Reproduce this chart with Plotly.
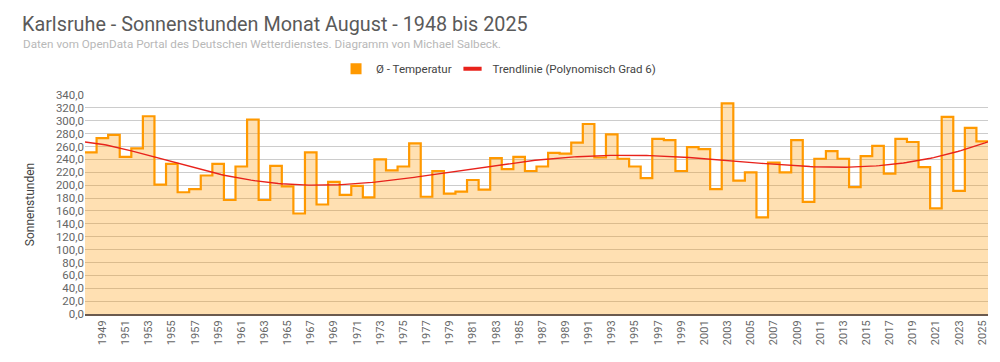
import numpy as np
import plotly.graph_objects as go

years = list(range(1948, 2026))
sunshine = [
    251, 273, 278, 244, 257, 307, 201, 233, 189, 194,   # 1948-1957
    215, 233, 177, 229, 302, 177, 230, 198, 156, 251,   # 1958-1967
    170, 205, 185, 199, 181, 240, 223, 229, 265, 182,   # 1968-1977
    222, 187, 190, 208, 193, 242, 225, 244, 222, 229,   # 1978-1987
    250, 249, 266, 295, 243, 279, 241, 229, 211, 272,   # 1988-1997
    270, 222, 259, 256, 194, 327, 207, 220, 150, 235,   # 1998-2007
    220, 270, 174, 241, 253, 241, 197, 245, 261, 218,   # 2008-2017
    272, 267, 228, 164, 306, 191, 289, 268,             # 2018-2025
]
x_ticks = list(range(1949, 2026, 2))
y_ticks = list(range(0, 341, 20))

yrs = np.array(years, dtype=float)
vals = np.array(sunshine, dtype=float)

# step edges: each year occupies a full band
edges = np.append(yrs - 0.5, yrs[-1] + 0.5)
step_vals = np.append(vals, vals[-1])

# polynomial trend, degree 6
coef = np.polyfit((yrs - yrs.mean()) / 40.0, vals, 6)
xt = np.linspace(edges[0], edges[-1], 300)
yt = np.polyval(coef, (xt - yrs.mean()) / 40.0)

ORANGE = "#FF9900"
RED = "#E8221B"

fig = go.Figure()
fig.add_trace(go.Scatter(
    x=edges, y=step_vals, mode="lines", line=dict(shape="hv", color=ORANGE, width=2.2),
    fill="tozeroy", fillcolor="rgba(255,153,0,0.3)", showlegend=False,
))
fig.add_trace(go.Scatter(
    x=xt, y=yt, mode="lines", line=dict(color=RED, width=1.4), showlegend=False,
))
# legend entries
fig.add_trace(go.Scatter(
    x=[None], y=[None], mode="markers", name="Ø - Temperatur", legend="legend",
    marker=dict(symbol="square", size=11, color=ORANGE),
))
fig.add_trace(go.Scatter(
    x=[None], y=[None], mode="markers", name="Trendlinie (Polynomisch Grad 6)", legend="legend2",
    marker=dict(symbol="line-ew", size=13, line=dict(width=4, color=RED)),
))

legend_style = dict(
    orientation="h", y=1.12, xanchor="left", yanchor="middle",
    font=dict(family="Roboto", size=11.5, color="#444444"), itemwidth=30,
    bgcolor="rgba(0,0,0,0)",
)

fig.update_layout(
    width=1000, height=362,
    margin=dict(l=77, r=20, t=87, b=56),
    paper_bgcolor="white", plot_bgcolor="white",
    font=dict(family="Roboto", size=11, color="#555555"),
    separators=", ",
    title=dict(
        text="Karlsruhe - Sonnenstunden Monat August - 1948 bis 2025",
        x=0.014, xanchor="left", y=0.956, yanchor="middle",
        font=dict(family="Roboto", size=19.8, color="#5a5a5a"),
    ),
    annotations=[dict(
        text="Daten vom OpenData Portal des Deutschen Wetterdienstes. Diagramm von Michael Salbeck.",
        xref="paper", yref="paper", x=-0.0709, y=1.2326, xanchor="left", yanchor="middle",
        showarrow=False, font=dict(family="Roboto", size=11.7, color="#b8b8b8"),
    )],
    legend=dict(legend_style, x=0.278),
    legend2=dict(legend_style, x=0.407),
    xaxis=dict(
        range=[edges[0], edges[-1]], tickvals=x_ticks, ticktext=[str(v) for v in x_ticks],
        tickangle=-90, showgrid=False, zeroline=False, showline=True,
        linecolor="#6b5a4e", linewidth=2, ticks="", tickfont=dict(size=11, color="#666666"),
    ),
    yaxis=dict(
        range=[0, 340], tickvals=y_ticks, tickformat=".1f",
        showgrid=True, gridcolor="#cccccc", gridwidth=1, zeroline=False,
        title=dict(text="Sonnenstunden", font=dict(size=12, color="#444444"), standoff=18),
        tickfont=dict(size=11.5, color="#666666"),
    ),
)

fig.write_html("out.html")
